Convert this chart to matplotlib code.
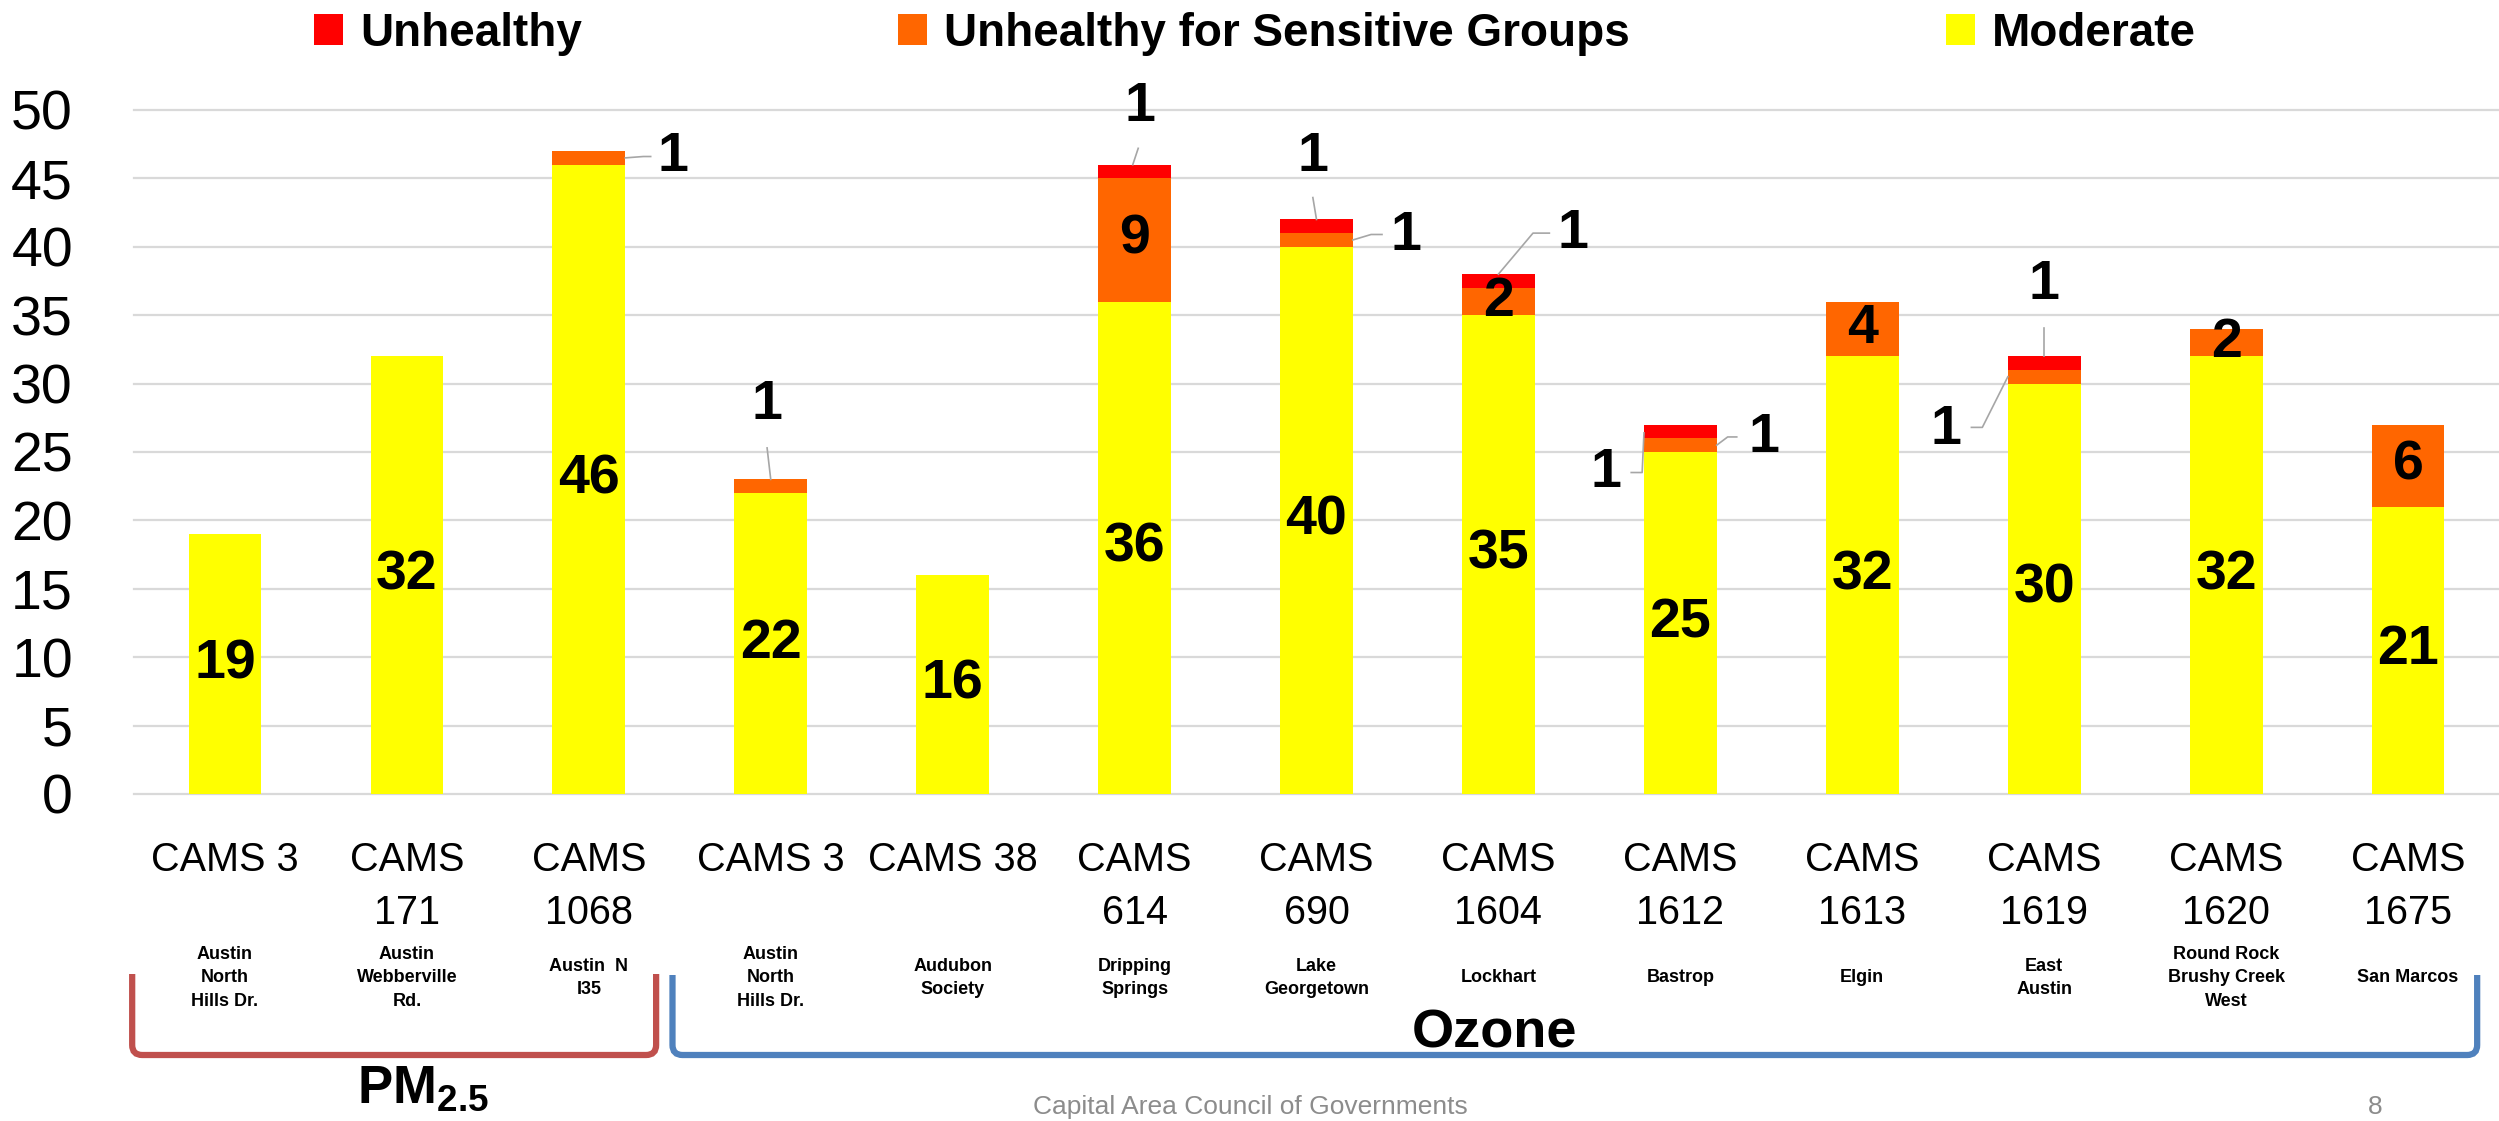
"""Days above 'Good' AQI per CAMS monitor (PM2.5 and ozone), stacked by category."""
import matplotlib
matplotlib.use("Agg")
import matplotlib.pyplot as plt
import numpy as np
from matplotlib.path import Path
from matplotlib.patches import PathPatch
from matplotlib.transforms import Affine2D, blended_transform_factory

plt.rcParams["font.family"] = ["Liberation Sans", "DejaVu Sans"]
plt.rcParams["mathtext.fontset"] = "custom"
plt.rcParams["mathtext.rm"] = "Liberation Sans"
plt.rcParams["mathtext.bf"] = "Liberation Sans:bold"

# --- data -------------------------------------------------------------------
sites = ["CAMS 3", "CAMS\n171", "CAMS\n1068", "CAMS 3", "CAMS 38", "CAMS\n614",
         "CAMS\n690", "CAMS\n1604", "CAMS\n1612", "CAMS\n1613", "CAMS\n1619",
         "CAMS\n1620", "CAMS\n1675"]
locations = ["Austin\nNorth\nHills Dr.", "Austin\nWebberville\nRd.", "Austin  N\nI35",
             "Austin\nNorth\nHills Dr.", "Audubon\nSociety", "Dripping\nSprings",
             "Lake\nGeorgetown", "Lockhart", "Bastrop", "Elgin", "East\nAustin",
             "Round Rock\nBrushy Creek\nWest", "San Marcos"]
moderate = [19, 32, 46, 22, 16, 36, 40, 35, 25, 32, 30, 32, 21]
usg = [0, 0, 1, 1, 0, 9, 1, 2, 1, 4, 1, 2, 6]
unhealthy = [0, 0, 0, 0, 0, 1, 1, 1, 1, 0, 1, 0, 0]

YELLOW, ORANGE, RED = "#FFFF00", "#FF6600", "#FF0000"
GRID = "#D9D9D9"
LEADER = "#A6A6A6"

# Labels moved outside small segments: (bar, series) -> text (dx, y), leader [(dx, y), ...]
OUTSIDE = {
    (2, "usg"): ((0.46, 46.6), [(0.20, 46.5), (0.30, 46.6), (0.34, 46.6)]),
    (3, "usg"): ((-0.02, 28.4), [(-0.02, 25.3), (0.0, 23.0)]),
    (5, "unh"): ((0.03, 50.2), [(0.02, 47.2), (-0.01, 46.0)]),
    (6, "unh"): ((-0.02, 46.6), [(-0.02, 43.6), (0.0, 42.0)]),
    (6, "usg"): ((0.49, 40.8), [(0.20, 40.5), (0.30, 40.9), (0.36, 40.9)]),
    (7, "unh"): ((0.41, 40.9), [(0.0, 38.0), (0.19, 41.0), (0.28, 41.0)]),
    (8, "unh"): ((-0.41, 23.5), [(-0.27, 23.5), (-0.21, 23.5), (-0.20, 26.4)]),
    (8, "usg"): ((0.46, 26.0), [(0.20, 25.5), (0.26, 26.1), (0.31, 26.1)]),
    (10, "unh"): ((0.0, 37.2), [(0.0, 34.1), (0.0, 32.0)]),
    (10, "usg"): ((-0.54, 26.6), [(-0.40, 26.8), (-0.34, 26.8), (-0.20, 30.5)]),
}

W, H = 2499, 1121
fig = plt.figure(figsize=(W / 100, H / 100), dpi=100)
ax = fig.add_axes([134 / W, 1 - 794 / H, 1 - 134 / W, (794 - 110) / H])

x = np.arange(len(sites))
width = 0.4
bottom_unh = np.add(moderate, usg)
b_mod = ax.bar(x, moderate, width, color=YELLOW, label="Moderate")
b_usg = ax.bar(x, usg, width, bottom=moderate, color=ORANGE,
               label="Unhealthy for Sensitive Groups")
b_unh = ax.bar(x, unhealthy, width, bottom=bottom_unh, color=RED, label="Unhealthy")

ax.set_xlim(-0.5, len(sites) - 0.5)
ax.set_ylim(0, 50)
ax.set_yticks(range(0, 51, 5))
ax.tick_params(axis="y", length=0, pad=44, labelsize=40)
ax.tick_params(axis="x", length=0, pad=34, labelsize=28.5)
ax.set_xticks(x)
ax.set_xticklabels(sites, linespacing=1.5)
for s in ax.spines.values():
    s.set_visible(False)
ax.grid(axis="y", color=GRID, lw=1.6)
ax.set_axisbelow(True)
for gl in ax.get_ygridlines():
    gl.set_clip_on(False)

# value labels
series = [("mod", moderate, np.zeros(len(x))), ("usg", usg, np.array(moderate)),
          ("unh", unhealthy, bottom_unh)]
for name, vals, base in series:
    for i, v in enumerate(vals):
        if v == 0:
            continue
        if (i, name) in OUTSIDE:
            (tdx, ty), pts = OUTSIDE[(i, name)]
            ax.text(i + tdx, ty, str(v), ha="center", va="center",
                    fontsize=40, fontweight="bold", clip_on=False)
            ax.plot([i + p[0] for p in pts], [p[1] for p in pts],
                    color=LEADER, lw=1.2, clip_on=False)
        else:
            ax.text(i, base[i] + v / 2, str(v), ha="center", va="center",
                    fontsize=40, fontweight="bold")

# pixel-space helper (y measured from top of figure)
pix = Affine2D().scale(1 / W, -1 / H).translate(0, 1) + fig.transFigure
xdata_ypix = blended_transform_factory(ax.transData, pix)

for i, loc in enumerate(locations):
    ax.text(i, 978, loc, transform=xdata_ypix, ha="center", va="center",
            fontsize=13, fontweight="bold", linespacing=1.5)


def bracket(x0, x1, top, bot, color):
    rx, ry = 0.055, 10
    verts = [(x0, top), (x0, bot - ry), (x0, bot), (x0 + rx, bot),
             (x1 - rx, bot), (x1, bot), (x1, bot - ry), (x1, top)]
    codes = [Path.MOVETO, Path.LINETO, Path.CURVE3, Path.CURVE3,
             Path.LINETO, Path.CURVE3, Path.CURVE3, Path.LINETO]
    fig.add_artist(PathPatch(Path(verts, codes), transform=xdata_ypix,
                             fill=False, edgecolor=color, lw=4.5))


bracket(-0.51, 2.37, 974, 1055, "#C0504D")
bracket(2.46, 12.38, 975, 1055, "#4F81BD")

ax.text(1.09, 1103, r"PM$_\mathbf{2.5}$", transform=xdata_ypix, ha="center",
        va="baseline", fontsize=38, fontweight="bold")
ax.text(6.98, 1048, "Ozone", transform=xdata_ypix, ha="center", va="baseline",
        fontsize=39, fontweight="bold")

fig.text(1250 / W, 1 - 1114 / H, "Capital Area Council of Governments", ha="center",
         va="baseline", fontsize=19, color="#8C8C8C")
fig.text(2375 / W, 1 - 1114 / H, "8", ha="center", va="baseline", fontsize=19,
         color="#8C8C8C")

fig.legend(handles=[b_unh, b_usg, b_mod], ncol=3, loc="upper left",
           bbox_to_anchor=(314 / W, 1 - 12 / H), frameon=False,
           prop={"size": 33, "weight": "bold"}, handlelength=0.63,
           handleheight=0.66, handletextpad=0.37, columnspacing=6.9,
           borderpad=0, borderaxespad=0)

fig.savefig("out.png", dpi=100)
